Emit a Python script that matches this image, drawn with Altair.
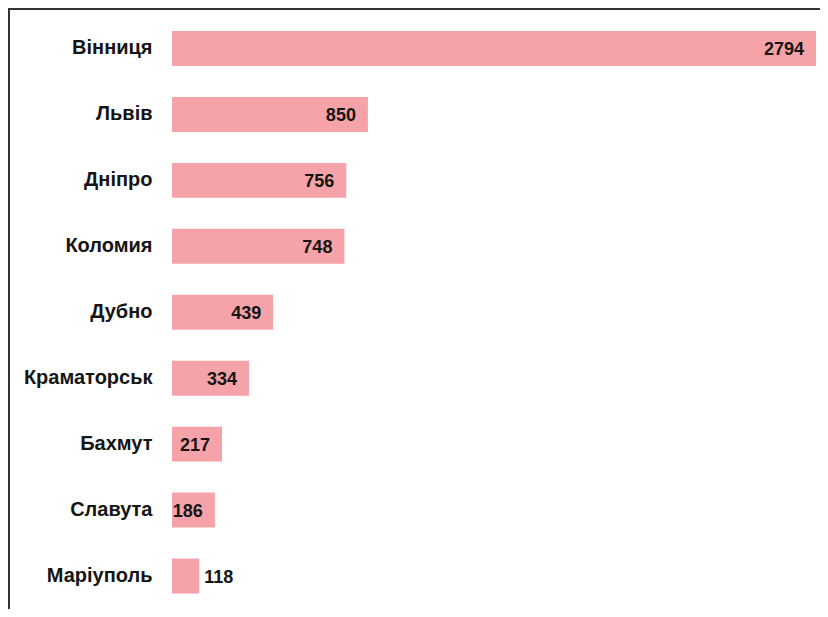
import altair as alt
import pandas as pd

cities = ["Вінниця", "Львів", "Дніпро", "Коломия", "Дубно",
          "Краматорськ", "Бахмут", "Славута", "Маріуполь"]
values = [2794, 850, 756, 748, 439, 334, 217, 186, 118]

df = pd.DataFrame({"city": cities, "value": values})
frame_df = pd.DataFrame({"k": [0]})

FONT = "Liberation Sans"
BAR = "#F5A3A8"
W, H = 644, 593.5
PL, PT, PR, PB = 164, 7.5, 4, 0

y = alt.Y("city:N", sort=None, title=None,
          scale=alt.Scale(paddingInner=0.47, paddingOuter=0.235),
          axis=alt.Axis(domain=False, ticks=False, labelPadding=20,
                        labelFont=FONT, labelFontSize=20, labelFontWeight="bold",
                        labelColor="#151515"))
x = alt.X("value:Q", title=None, axis=None,
          scale=alt.Scale(domain=[0, max(values)], nice=False, zero=True))

base = alt.Chart(df).encode(y=y, x=x)

bars = base.mark_bar(color=BAR)

inside = base.transform_filter("datum.value >= 150").mark_text(
    align="right", baseline="middle", dx=-12, dy=2, font=FONT, fontSize=18,
    fontWeight="bold", color="#151515").encode(text="value:Q")

outside = base.transform_filter("datum.value < 150").mark_text(
    align="left", baseline="middle", dx=5, dy=2, font=FONT, fontSize=18,
    fontWeight="bold", color="#151515").encode(text="value:Q")

top_line = alt.Chart(frame_df).mark_rule(color="#333333", strokeWidth=2).encode(
    x=alt.value(-PL), x2=alt.value(W + PR), y=alt.value(-PT + 1))
left_line = alt.Chart(frame_df).mark_rule(color="#333333", strokeWidth=2).encode(
    x=alt.value(-PL + 1), y=alt.value(-PT), y2=alt.value(H + PB))

chart = alt.layer(bars, inside, outside, top_line, left_line).properties(
    width=W, height=H,
    background="white",
    autosize=alt.AutoSizeParams(type="none"),
    padding={"left": PL, "top": PT, "right": PR, "bottom": PB},
).configure_view(strokeWidth=0, stroke="transparent")

chart.save("out.html", embed_options={"renderer": "svg", "actions": False})
